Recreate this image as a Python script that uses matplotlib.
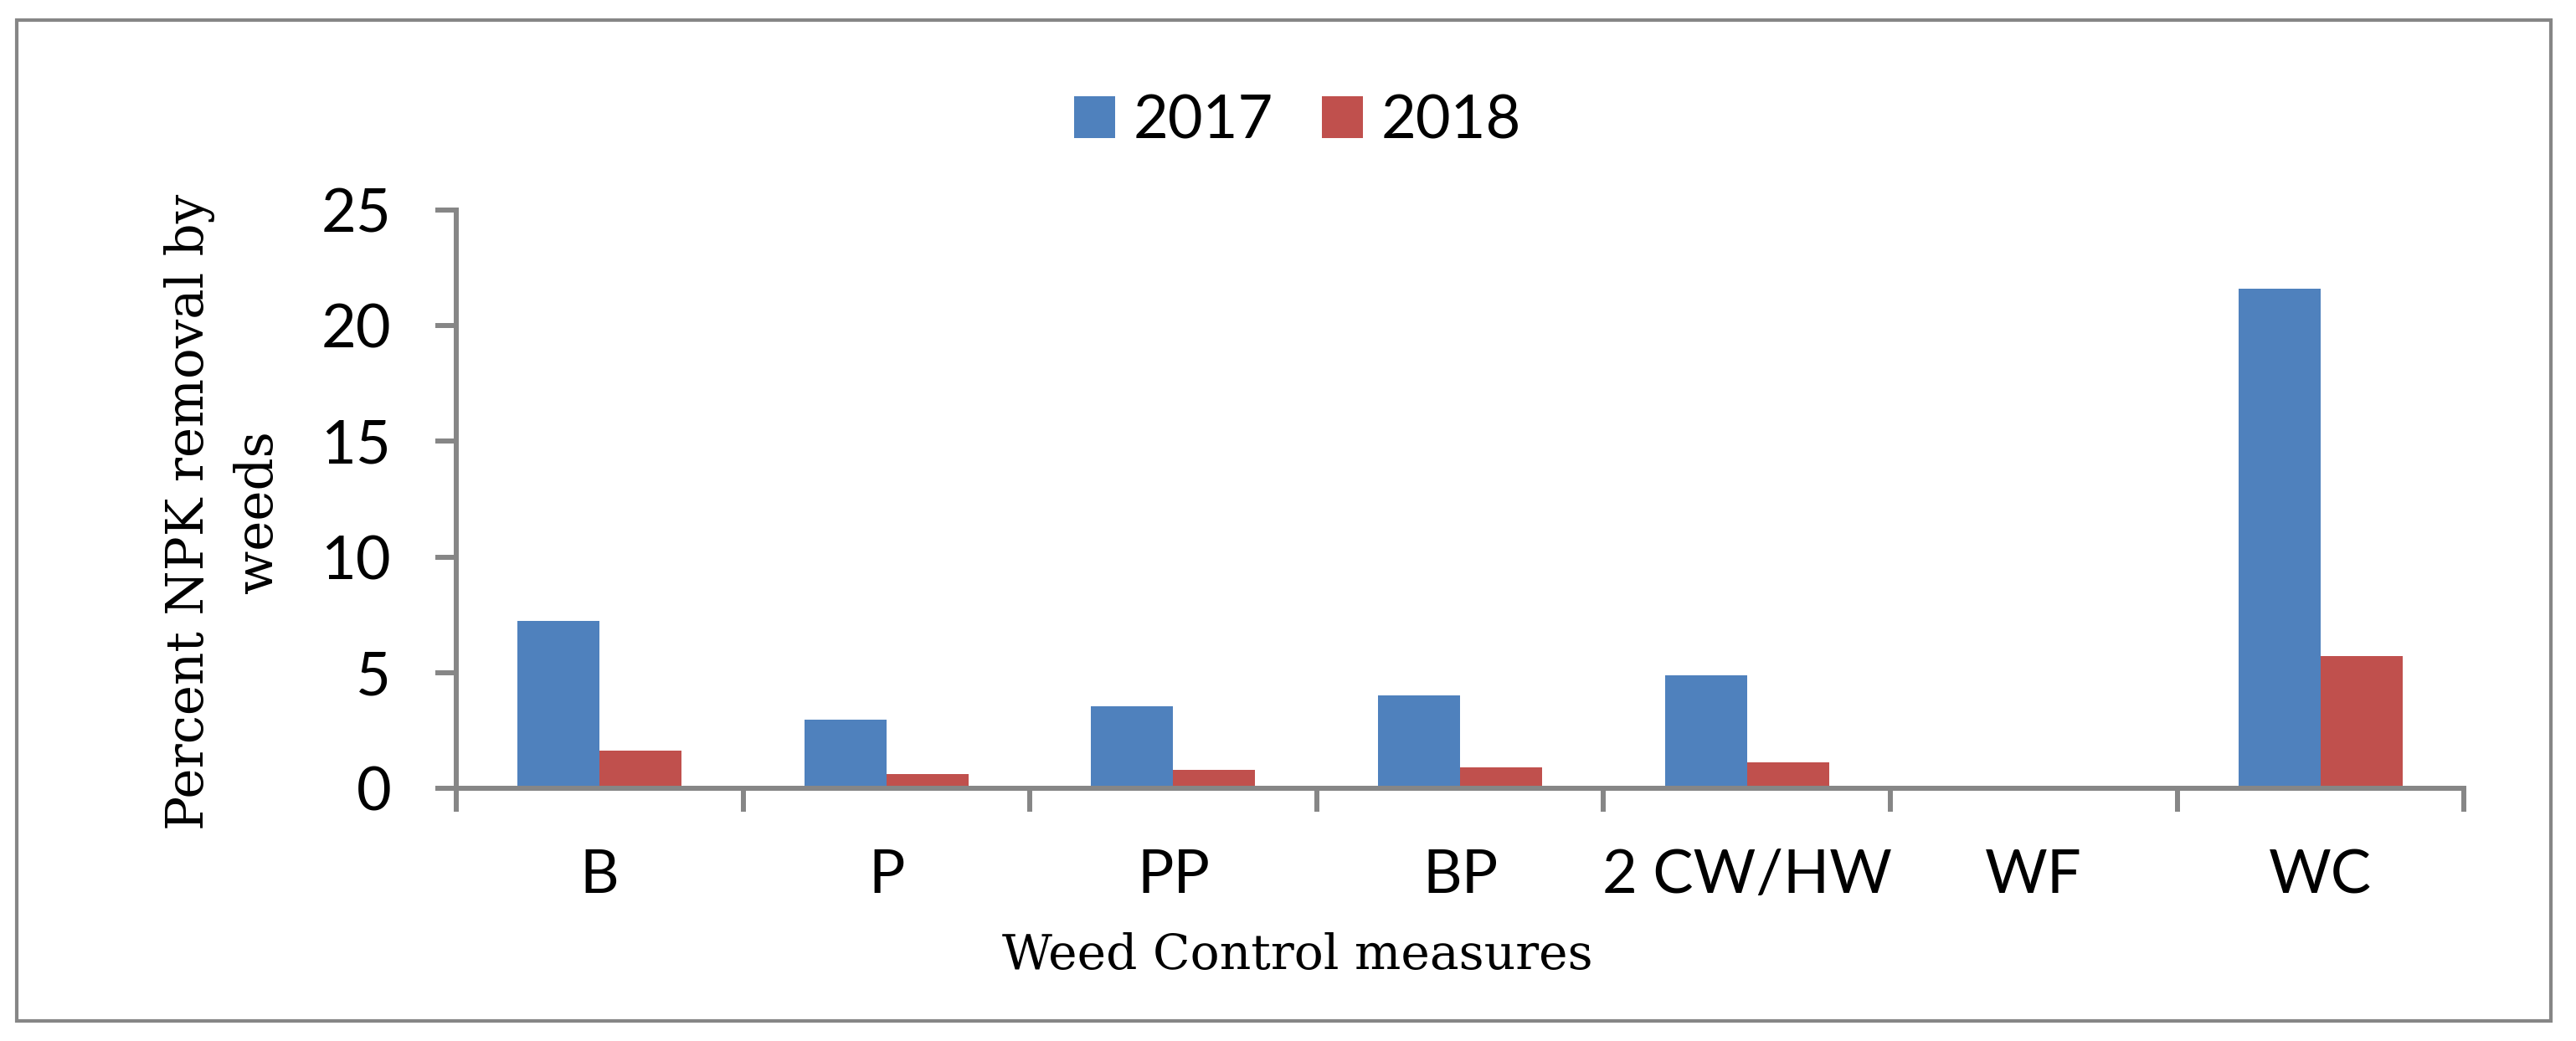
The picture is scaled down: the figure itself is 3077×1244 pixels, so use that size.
import matplotlib
matplotlib.use("Agg")
import matplotlib.pyplot as plt
from matplotlib.patches import Patch, Rectangle
import numpy as np

categories = ["B", "P", "PP", "BP", "2 CW/HW", "WF", "WC"]
series_names = ["2017", "2018"]
values_2017 = [7.22, 2.95, 3.55, 4.0, 4.88, 0.0, 21.58]
values_2018 = [1.64, 0.62, 0.8, 0.92, 1.13, 0.0, 5.71]
y_ticks = [0, 5, 10, 15, 20, 25]

blue = "#4F81BD"
red = "#C0504D"
gray = "#868686"
sans = ["Lato", "DejaVu Sans"]
serif = ["DejaVu Serif"]

fig = plt.figure(figsize=(30.77, 12.44), dpi=100)
ax = fig.add_axes([0.1771, 0.2428, 0.9565 - 0.1771, 0.5555])

x = np.arange(len(categories)) + 0.5
w = 0.286
ax.bar(x - w / 2, values_2017, width=w, color=blue, zorder=2)
ax.bar(x + w / 2, values_2018, width=w, color=red, zorder=2)

ax.set_xlim(0, len(categories))
ax.set_ylim(0, 25)
for s in ["top", "right"]:
    ax.spines[s].set_visible(False)
for s in ["left", "bottom"]:
    ax.spines[s].set_color(gray)
    ax.spines[s].set_linewidth(4.3)
    ax.spines[s].set_zorder(3)

ax.set_yticks(y_ticks)
ax.set_yticklabels([str(t) for t in y_ticks], fontsize=52, family=sans)
ax.tick_params(axis="y", length=18, width=4.3, color=gray, pad=38)

ax.set_xticks(x)
ax.set_xticklabels(categories, fontsize=52, family=sans)
ax.tick_params(axis="x", which="major", length=0, pad=52)
ax.set_xticks(np.arange(len(categories) + 1), minor=True)
ax.tick_params(axis="x", which="minor", length=20, width=4.3, color=gray)

fig.text(267 / 3077, 1 - 612 / 1244, "Percent NPK removal by\nweeds", rotation=90,
         ha="center", va="center", multialignment="center", fontsize=44,
         family=serif, linespacing=1.45)
fig.text(1550 / 3077, 1 - 1142 / 1244, "Weed Control measures", ha="center",
         va="center", fontsize=42, family=serif)

handles = [Patch(facecolor=blue), Patch(facecolor=red)]
fig.legend(handles, series_names, loc="center", bbox_to_anchor=(1550 / 3077, 1 - 145 / 1244),
           ncol=2, frameon=False, prop={"family": sans, "size": 52},
           handlelength=0.68, handleheight=0.68, handletextpad=0.3, columnspacing=0.8)

fig.patches.append(Rectangle((20 / 3077, 24 / 1244), (3047 - 20) / 3077, (1220 - 24) / 1244,
                             transform=fig.transFigure, fill=False, edgecolor=gray, linewidth=3))

fig.savefig("out.png", dpi=100)
